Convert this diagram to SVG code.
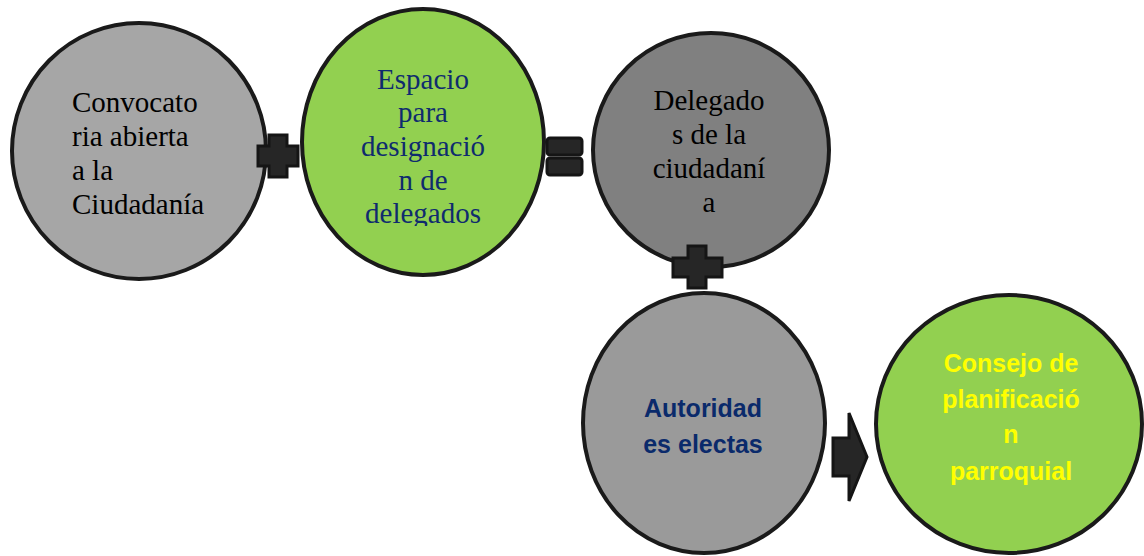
<svg xmlns="http://www.w3.org/2000/svg" width="1144" height="556" viewBox="0 0 1144 556">
<style>
.node{stroke:#1a1a1a;stroke-width:4}
.serif{font-family:'Liberation Serif','DejaVu Serif',serif;font-size:29px}
.sans{font-family:'Liberation Sans',Arial,sans-serif;font-size:25px;font-weight:bold}
.op{fill:#262626;stroke:#151515;stroke-width:3;stroke-linejoin:miter}
</style>
<defs>
<clipPath id="clip2"><rect x="300" y="0" width="250" height="226"/></clipPath>
</defs>
<rect width="1144" height="556" fill="#ffffff"/>
<g id="node-convocatoria">
<ellipse class="node" cx="139" cy="151" rx="127" ry="128" fill="#a6a6a6"/>
<text class="serif" font-family="Liberation Serif, serif" fill="#000000"><tspan x="72" y="112">Convocato</tspan><tspan x="72" y="146">ria abierta</tspan><tspan x="72" y="180">a la</tspan><tspan x="72" y="214">Ciudadanía</tspan></text>
</g>
<g id="node-espacio">
<ellipse class="node" cx="423" cy="142" rx="121" ry="133" fill="#92d050"/>
<text class="serif" font-family="Liberation Serif, serif" fill="#0f2b6e" text-anchor="middle" clip-path="url(#clip2)"><tspan x="423" y="89">Espacio</tspan><tspan x="423" y="122">para</tspan><tspan x="423" y="156">designació</tspan><tspan x="423" y="190">n de</tspan><tspan x="423" y="223">delegados</tspan></text>
</g>
<g id="node-delegados">
<ellipse class="node" cx="711" cy="150" rx="118" ry="117" fill="#808080"/>
<text class="serif" font-family="Liberation Serif, serif" fill="#000000" text-anchor="middle"><tspan x="709" y="110">Delegado</tspan><tspan x="709" y="144">s de la</tspan><tspan x="709" y="178">ciudadaní</tspan><tspan x="709" y="212">a</tspan></text>
</g>
<g id="node-autoridades">
<ellipse class="node" cx="704" cy="423" rx="121" ry="130" fill="#9a9a9a"/>
<text class="sans" fill="#0a2a6b" text-anchor="middle"><tspan x="703" y="417">Autoridad</tspan><tspan x="703" y="453">es electas</tspan></text>
</g>
<g id="node-consejo">
<ellipse class="node" cx="1009" cy="424" rx="133" ry="129" fill="#92d050"/>
<text class="sans" fill="#ffff00" text-anchor="middle"><tspan x="1011" y="372">Consejo de</tspan><tspan x="1011" y="408">planificació</tspan><tspan x="1011" y="443">n</tspan><tspan x="1011" y="480">parroquial</tspan></text>
</g>
<g id="connectors">
<path class="op" d="M269,135 H287 V146 H298 V166 H287 V177 H269 V166 H258 V146 H269 Z"/>
<rect class="op" x="547" y="138" width="35" height="17" rx="3"/>
<rect class="op" x="547" y="158" width="35" height="17" rx="3"/>
<path class="op" d="M688,246 H706 V258 H722 V277 H706 V288 H688 V277 H673 V258 H688 Z"/>
<path class="op" d="M833,438 H849 V413 L867,457 L849,501 V476 H833 Z"/>
</g>
</svg>
